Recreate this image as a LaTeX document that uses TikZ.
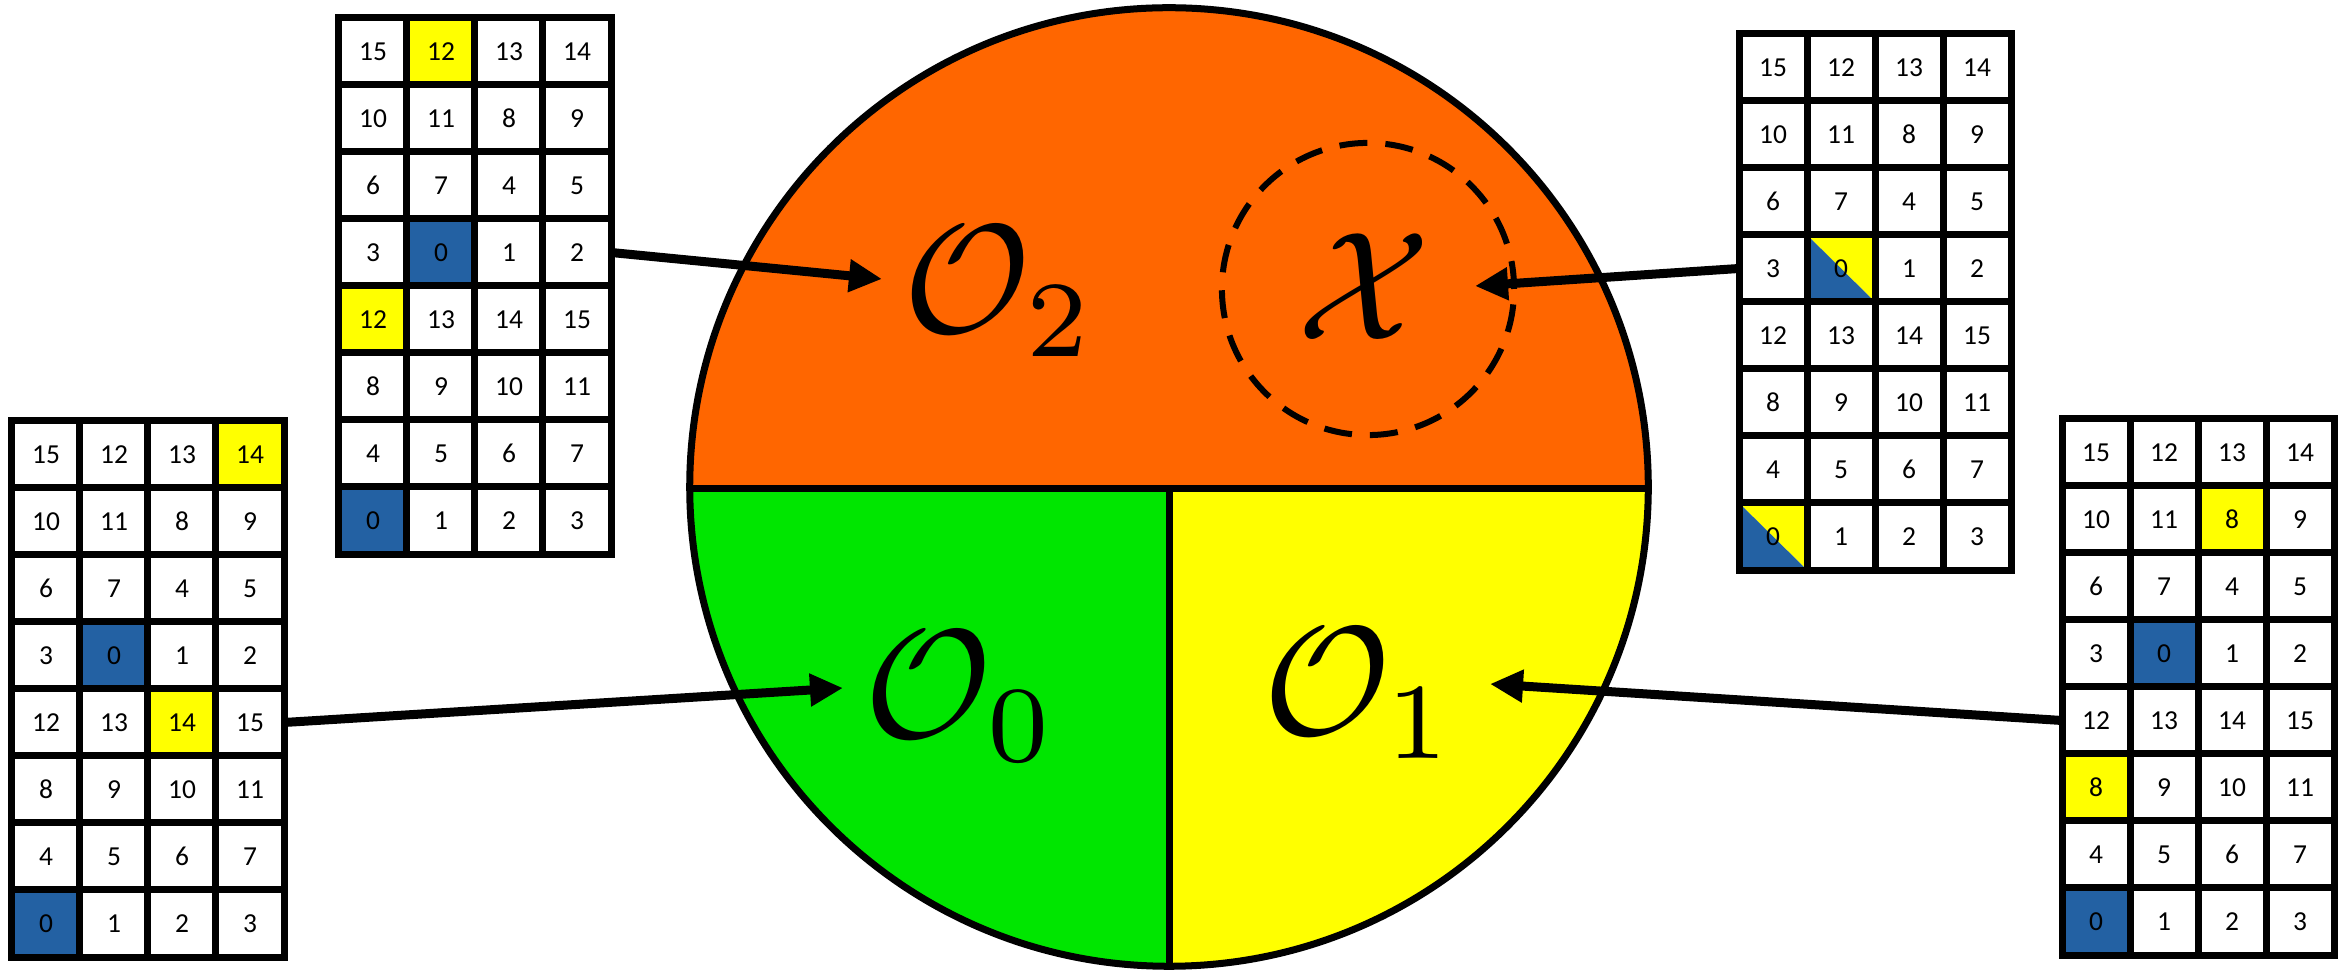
\documentclass[tikz,border=0pt]{standalone}
\usepackage{fontspec}
\usepackage{graphicx}
\newfontfamily\cellfont{Carlito}
\usetikzlibrary{arrows.meta}
\definecolor{orC}{RGB}{255,102,0}
\definecolor{grC}{RGB}{0,230,0}
\definecolor{yeC}{RGB}{255,255,0}
\definecolor{blC}{RGB}{35,97,163}
\tikzset{
  cell/.style={rectangle, draw=black, line width=0.07cm, fill=white,
    minimum width=0.68cm, minimum height=0.67cm, inner sep=0pt, outer sep=0pt,
    font=\cellfont\fontsize{7.8}{9}\selectfont},
  hy/.style={fill=yeC},
  hb/.style={fill=blC},
  hh/.style={path picture={
      \fill[yeC] (path picture bounding box.north west) -- (path picture bounding box.north east) -- (path picture bounding box.south east) -- cycle;
      \fill[blC] (path picture bounding box.north west) -- (path picture bounding box.south west) -- (path picture bounding box.south east) -- cycle;}},
  cs/A-1-2/.style={hy}, cs/A-5-1/.style={hy}, cs/A-4-2/.style={hb}, cs/A-8-1/.style={hb},
  cs/B-1-4/.style={hy}, cs/B-5-3/.style={hy}, cs/B-4-2/.style={hb}, cs/B-8-1/.style={hb},
  cs/C-4-2/.style={hh}, cs/C-8-1/.style={hh},
  cs/D-2-3/.style={hy}, cs/D-6-1/.style={hy}, cs/D-4-2/.style={hb}, cs/D-8-1/.style={hb},
  arr/.style={line width=0.09cm, -{Triangle[length=0.33cm,width=0.31cm]}},
  lbl/.style={inner sep=0pt},
  rim/.style={line width=0.07cm, draw=black},
}
\newcommand\mygrid[3]{%
  \foreach \r [count=\i] in {{15,12,13,14},{10,11,8,9},{6,7,4,5},{3,0,1,2},{12,13,14,15},{8,9,10,11},{4,5,6,7},{0,1,2,3}} {
    \foreach \v [count=\j] in \r {
      \edef\myopts{cell,cs/#1-\i-\j/.try}
      \expandafter\node\expandafter[\myopts] (#1-\i-\j) at ({#2+\j*68-34},{#3+\i*67-33.5}) {\v};
    }
  }%
}
\newcommand\biglbl[1]{\scalebox{4.4}{$#1$}}
\begin{document}
\begin{tikzpicture}[x=0.01cm, y=-0.01cm]
\useasboundingbox (0,0) rectangle (2343,971);
\fill[white] (0,0) rectangle (2343,971);
% main circle
\coordinate (cc) at (1169,487);
\begin{scope}
  \clip (cc) circle[radius=4.79cm];
  \fill[orC] (680,0) rectangle (1660,489);
  \fill[grC] (680,489) rectangle (1169,980);
  \fill[yeC] (1169,489) rectangle (1660,980);
  \draw[rim] (680,489) -- (1660,489);
  \draw[rim] (1169,489) -- (1169,980);
\end{scope}
\draw[rim] (cc) circle[radius=4.79cm];
% dashed circle
\node[draw, circle, line width=0.06cm, dash pattern=on 0.28cm off 0.18cm, minimum size=2.92cm, inner sep=0pt] (xc) at (1368,289) {};
% labels
\node[lbl, anchor=base] (o2) at (1000,333) {\biglbl{\mathcal{O}_2}};
\node[lbl, anchor=base] (xl) at (1364,340) {\biglbl{\mathcal{X}}};
\node[lbl, anchor=base] (o0) at (961,738) {\biglbl{\mathcal{O}_0}};
\node[lbl, anchor=base] (o1) at (1360,735) {\biglbl{\mathcal{O}_1}};
% grids
\mygrid{A}{339}{18}
\mygrid{B}{12}{421}
\mygrid{C}{1739}{34}
\mygrid{D}{2062}{419}
% arrows
\coordinate (tA) at (882,279);
\coordinate (tB) at (843,688);
\coordinate (tC) at (1475,286);
\coordinate (tD) at (1490,684);
\draw[arr] (A-4-4.east) -- (tA);
\draw[arr] (B-5-4.east) -- (tB);
\draw[arr] (C-4-1.west) -- (tC);
\draw[arr] (D-5-1.west) -- (tD);
\end{tikzpicture}
\end{document}
